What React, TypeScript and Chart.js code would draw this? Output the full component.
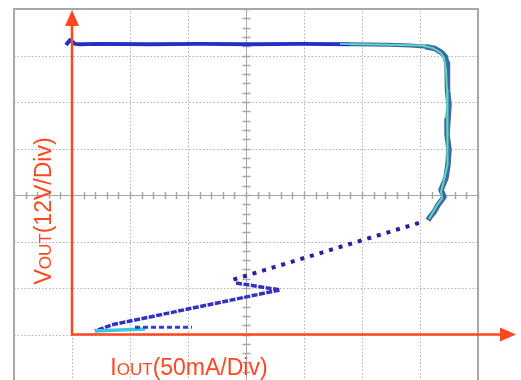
import React, { useEffect, useRef } from "react";
import { Chart, registerables } from "chart.js";

Chart.register(...registerables);

// Scope settings: 50 mA/div horizontally, 12 V/div vertically, origin at the red axes
const X_MIN = -50;
const X_MAX = 350;
const X_DIV = 50;
const Y_MIN = -12;
const Y_MAX = 84;
const Y_DIV = 12;

const X_LABEL = ["I", "OUT", "(50mA/Div)"];
const Y_LABEL = ["V", "OUT", "(12V/Div)"];

// Constant-voltage region and current-limit knee (mA, V)
const limitCurrent = [-5.2, -1.7, 2.6, 6.9, 24.1, 67.2, 110.3, 153.4, 196.6, 239.7, 274.1, 291.4, 304.3, 312.9, 318.1, 321.6, 323.3, 324.1, 323.3, 325.0, 324.1, 323.3, 325.0, 324.1, 322.4, 318.1, 320.7, 315.5, 312.1, 308.6, 306.9];
const limitVoltage = [74.7, 76.0, 75.0, 74.9, 75.0, 74.9, 75.0, 74.9, 75.0, 74.9, 74.8, 74.6, 74.3, 73.8, 72.9, 71.8, 70.0, 67.2, 63.1, 59.3, 55.4, 51.6, 47.7, 43.8, 40.4, 37.3, 35.5, 33.4, 31.6, 30.3, 29.5];

// Green/cyan persistence over the knee
const glowCurrent = [231.0, 274.1, 301.7, 311.2, 317.2, 320.7, 322.4, 323.3, 324.1, 323.3, 324.1, 323.3, 320.7, 318.1, 319.0, 313.8, 310.3, 307.7];
const glowVoltage = [75.0, 74.8, 74.6, 73.9, 72.9, 71.4, 68.3, 63.1, 57.9, 52.8, 47.7, 43.8, 39.9, 36.8, 35.2, 32.9, 31.1, 29.8];

// Foldback (dotted)
const foldCurrent = [299.1, 136.2];
const foldVoltage = [28.8, 13.9];

// Zig-zag down to short circuit
const zigCurrent = [141.4, 179.3, 34.5, 19.8];
const zigVoltage = [13.3, 11.5, 2.5, 0.9];

// Short-circuit region
const shortCurrent = [19.8, 62.9];
const shortVoltage = [0.9, 1.4];
const shortCurrent2 = [54.3, 103.4];
const shortVoltage2 = [1.9, 1.9];

const toPoints = (xs: number[], ys: number[]) => xs.map((x, i) => ({ x, y: ys[i] }));

const RED = "#ff4620";
const FONT = '"Liberation Sans", Arial, sans-serif';

function drawParts(ctx: CanvasRenderingContext2D, parts: { t: string; s: number }[], cx: number, base: number) {
  let total = 0;
  const widths = parts.map((p) => {
    ctx.font = `${p.s}px ${FONT}`;
    const w = ctx.measureText(p.t).width;
    total += w;
    return w;
  });
  let x = cx - total / 2;
  parts.forEach((p, i) => {
    ctx.font = `${p.s}px ${FONT}`;
    ctx.fillText(p.t, x, base);
    x += widths[i];
  });
}

const scopePlugin = {
  id: "scopePlugin",
  beforeDatasetsDraw(chart: any) {
    const { ctx, chartArea: a, scales } = chart;
    const xs = scales.x;
    const ys = scales.y;
    ctx.save();
    // dotted grid
    ctx.strokeStyle = "#b2b2b2";
    ctx.lineWidth = 1;
    ctx.setLineDash([1.5, 2]);
    for (let v = X_MIN + X_DIV; v < X_MAX - 1e-6; v += X_DIV) {
      const px = Math.round(xs.getPixelForValue(v)) + 0.5;
      ctx.beginPath();
      ctx.moveTo(px, a.top);
      ctx.lineTo(px, a.bottom);
      ctx.stroke();
    }
    for (let v = Y_MIN + Y_DIV; v < Y_MAX - 1e-6; v += Y_DIV) {
      const py = Math.round(ys.getPixelForValue(v)) + 0.5;
      ctx.beginPath();
      ctx.moveTo(a.left, py);
      ctx.lineTo(a.right, py);
      ctx.stroke();
    }
    ctx.setLineDash([]);
    // center axes with minor ticks
    const cxv = (X_MIN + X_MAX) / 2;
    const cyv = (Y_MIN + Y_MAX) / 2;
    const cx = Math.round(xs.getPixelForValue(cxv)) + 0.5;
    const cy = Math.round(ys.getPixelForValue(cyv)) + 0.5;
    ctx.strokeStyle = "#a8a8a8";
    ctx.lineWidth = 1;
    ctx.beginPath();
    ctx.moveTo(cx, a.top);
    ctx.lineTo(cx, a.bottom);
    ctx.moveTo(a.left, cy);
    ctx.lineTo(a.right, cy);
    ctx.stroke();
    ctx.lineWidth = 1.5;
    ctx.beginPath();
    for (let v = X_MIN; v <= X_MAX + 1e-6; v += X_DIV / 5) {
      const px = Math.round(xs.getPixelForValue(v)) + 0.5;
      ctx.moveTo(px, cy - 3.5);
      ctx.lineTo(px, cy + 3.5);
    }
    for (let v = Y_MIN; v <= Y_MAX + 1e-6; v += Y_DIV / 5) {
      const py = Math.round(ys.getPixelForValue(v)) + 0.5;
      ctx.moveTo(cx - 4, py);
      ctx.lineTo(cx + 4, py);
    }
    ctx.stroke();
    // frame
    ctx.strokeStyle = "#a8a8a8";
    ctx.lineWidth = 2;
    ctx.strokeRect(a.left, a.top, a.right - a.left, a.bottom - a.top);
    ctx.restore();
  },
  afterDatasetsDraw(chart: any) {
    const { ctx, chartArea: a, scales } = chart;
    const ox = scales.x.getPixelForValue(0);
    const oy = scales.y.getPixelForValue(0);
    ctx.save();
    ctx.strokeStyle = RED;
    ctx.fillStyle = RED;
    ctx.lineWidth = 2.5;
    const topTip = a.top + 1;
    const rightTip = a.right + 38;
    ctx.beginPath();
    ctx.moveTo(ox, oy + 1);
    ctx.lineTo(ox, topTip + 14);
    ctx.moveTo(ox - 1, oy);
    ctx.lineTo(rightTip - 14, oy);
    ctx.stroke();
    ctx.beginPath();
    ctx.moveTo(ox, topTip);
    ctx.lineTo(ox - 7, topTip + 16);
    ctx.lineTo(ox + 7, topTip + 16);
    ctx.closePath();
    ctx.fill();
    ctx.beginPath();
    ctx.moveTo(rightTip, oy);
    ctx.lineTo(rightTip - 16, oy - 7);
    ctx.lineTo(rightTip - 16, oy + 7);
    ctx.closePath();
    ctx.fill();
    // labels
    ctx.textBaseline = "alphabetic";
    ctx.textAlign = "left";
    drawParts(ctx, [{ t: X_LABEL[0], s: 23 }, { t: X_LABEL[1], s: 17 }, { t: X_LABEL[2], s: 23 }], 189, 375);
    ctx.save();
    ctx.translate(51, 211);
    ctx.rotate(-Math.PI / 2);
    drawParts(ctx, [{ t: Y_LABEL[0], s: 23 }, { t: Y_LABEL[1], s: 17 }, { t: Y_LABEL[2], s: 23 }], 0, 0);
    ctx.restore();
    ctx.restore();
  },
};

export default function App() {
  const ref = useRef<HTMLCanvasElement>(null);
  useEffect(() => {
    if (!ref.current) return;
    const chart = new Chart(ref.current, {
      type: "scatter",
      data: {
        datasets: [
          {
            order: 1,
            data: toPoints(limitCurrent, limitVoltage),
            showLine: true,
            borderWidth: 4,
            borderColor: "#2232c8",
            pointRadius: 0,
            tension: 0,
            borderJoinStyle: "round",
            segment: {
              borderColor: (c: any) => (c.p0.parsed.x < 230 ? "#2232c8" : "#3f66a8"),
              borderWidth: (c: any) => (c.p0.parsed.x < 300 ? 4 : 5.5),
            },
          },
          {
            order: 0,
            data: toPoints(glowCurrent, glowVoltage),
            showLine: true,
            borderWidth: 2,
            borderColor: "#5cd8b8",
            pointRadius: 0,
            borderJoinStyle: "round",
          },
          {
            order: 2,
            data: toPoints(foldCurrent, foldVoltage),
            showLine: true,
            borderWidth: 4,
            borderColor: "#321c9c",
            borderDash: [4, 6],
            borderCapStyle: "butt",
            pointRadius: 0,
          },
          {
            order: 2,
            data: toPoints(zigCurrent, zigVoltage),
            showLine: true,
            borderWidth: 3.5,
            borderColor: "#3430c0",
            borderDash: [6, 1.5],
            pointRadius: 0,
            borderJoinStyle: "round",
          },
          {
            order: 1,
            data: toPoints(shortCurrent, shortVoltage),
            showLine: true,
            borderWidth: 3.5,
            borderColor: "#3cc6e0",
            pointRadius: 0,
          },
          {
            order: 0,
            data: toPoints(shortCurrent2, shortVoltage2),
            showLine: true,
            borderWidth: 3,
            borderColor: "#2e40d0",
            borderDash: [5, 3],
            pointRadius: 0,
          },
        ],
      },
      options: {
        responsive: false,
        animation: false,
        layout: { padding: { left: 14, right: 43, top: 9, bottom: 9 } },
        plugins: { legend: { display: false }, tooltip: { enabled: false } },
        scales: {
          x: { type: "linear", min: X_MIN, max: X_MAX, display: false },
          y: { type: "linear", min: Y_MIN, max: Y_MAX, display: false },
        },
      },
      plugins: [scopePlugin],
    } as any);
    return () => chart.destroy();
  }, []);
  return (
    <div style={{ position: "fixed", left: 0, top: 0, width: 521, height: 390, background: "#fff" }}>
      <canvas ref={ref} width={521} height={390} style={{ display: "block" }} />
    </div>
  );
}
